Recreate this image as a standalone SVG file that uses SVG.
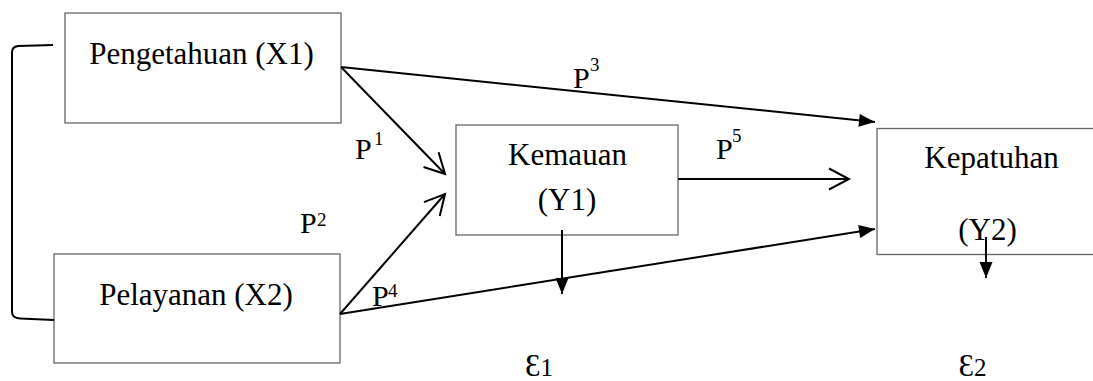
<svg xmlns="http://www.w3.org/2000/svg" width="1093" height="381" viewBox="0 0 1093 381">
<style>
.box{fill:#fff;stroke:#666;stroke-width:1.3}
.t{font-family:"Liberation Serif","Times New Roman",serif;font-size:31px;fill:#000}
.p{font-family:"Liberation Serif","Times New Roman",serif;font-size:30px;fill:#000}
.s{font-family:"Liberation Serif","Times New Roman",serif;font-size:19px;fill:#000}
.e{font-family:"Liberation Serif","Times New Roman",serif;font-size:25px;fill:#000}
.c{fill:none;stroke:#000;stroke-width:2}
</style>
<defs>
<marker id="fill" markerUnits="userSpaceOnUse" markerWidth="17" markerHeight="14" refX="16" refY="6.5" orient="auto" overflow="visible">
<path d="M0,0 L16,6.5 L0,13 z" fill="#000"/>
</marker>
<marker id="open" markerUnits="userSpaceOnUse" markerWidth="22" markerHeight="23" refX="20" refY="10.5" orient="auto" overflow="visible">
<path d="M0,0 L20,10.5 L0,21" fill="none" stroke="#000" stroke-width="2"/>
</marker>
</defs>
<g id="x1">
<rect class="box" x="65" y="13" width="276" height="110"/>
<text class="t" x="201.5" y="64" text-anchor="middle">Pengetahuan (X1)</text>
</g>
<g id="x2">
<rect class="box" x="54" y="254" width="286" height="109"/>
<text class="t" x="196" y="305" text-anchor="middle">Pelayanan (X2)</text>
</g>
<g id="y1">
<rect class="box" x="456" y="125" width="222" height="110"/>
<text class="t" x="567.5" y="165" text-anchor="middle">Kemauan</text>
<text class="t" x="567" y="210" text-anchor="middle">(Y1)</text>
</g>
<g id="y2">
<rect class="box" x="877" y="128.5" width="220" height="126"/>
<text class="t" x="991.5" y="168" text-anchor="middle">Kepatuhan</text>
<text class="t" x="987.5" y="240" text-anchor="middle">(Y2)</text>
</g>
<g id="connectors">
<path class="c" d="M53,45 L18,46 Q12,47 12,52 L12,312 Q12,318 20,318.5 L54,320"/>
<path class="c" d="M341,67 L875,122" marker-end="url(#fill)"/>
<path class="c" d="M341,67 L445,174" marker-end="url(#open)"/>
<path class="c" d="M340,314 L445,194" marker-end="url(#open)"/>
<path class="c" d="M340,314 L875,229" marker-end="url(#fill)"/>
<path class="c" d="M678,179 L849,179" marker-end="url(#open)"/>
<path class="c" d="M562,230 L562,294" marker-end="url(#fill)"/>
<path class="c" d="M986,237 L986,278" marker-end="url(#fill)"/>
</g>
<g id="labels">
<text class="p" x="355" y="159">P</text><text class="s" x="374" y="145">1</text>
<text class="p" x="300" y="233">P</text><text class="s" x="317" y="226">2</text>
<text class="p" x="573" y="88">P</text><text class="s" x="590" y="71">3</text>
<text class="p" x="372" y="306">P</text><text class="s" x="388" y="297">4</text>
<text class="p" x="716" y="159">P</text><text class="s" x="732" y="142">5</text>
<text class="e" x="539" y="376" text-anchor="middle"><tspan font-size="31">Ɛ</tspan>1</text>
<text class="e" x="972.5" y="376" text-anchor="middle"><tspan font-size="31">Ɛ</tspan>2</text>
</g>
</svg>
